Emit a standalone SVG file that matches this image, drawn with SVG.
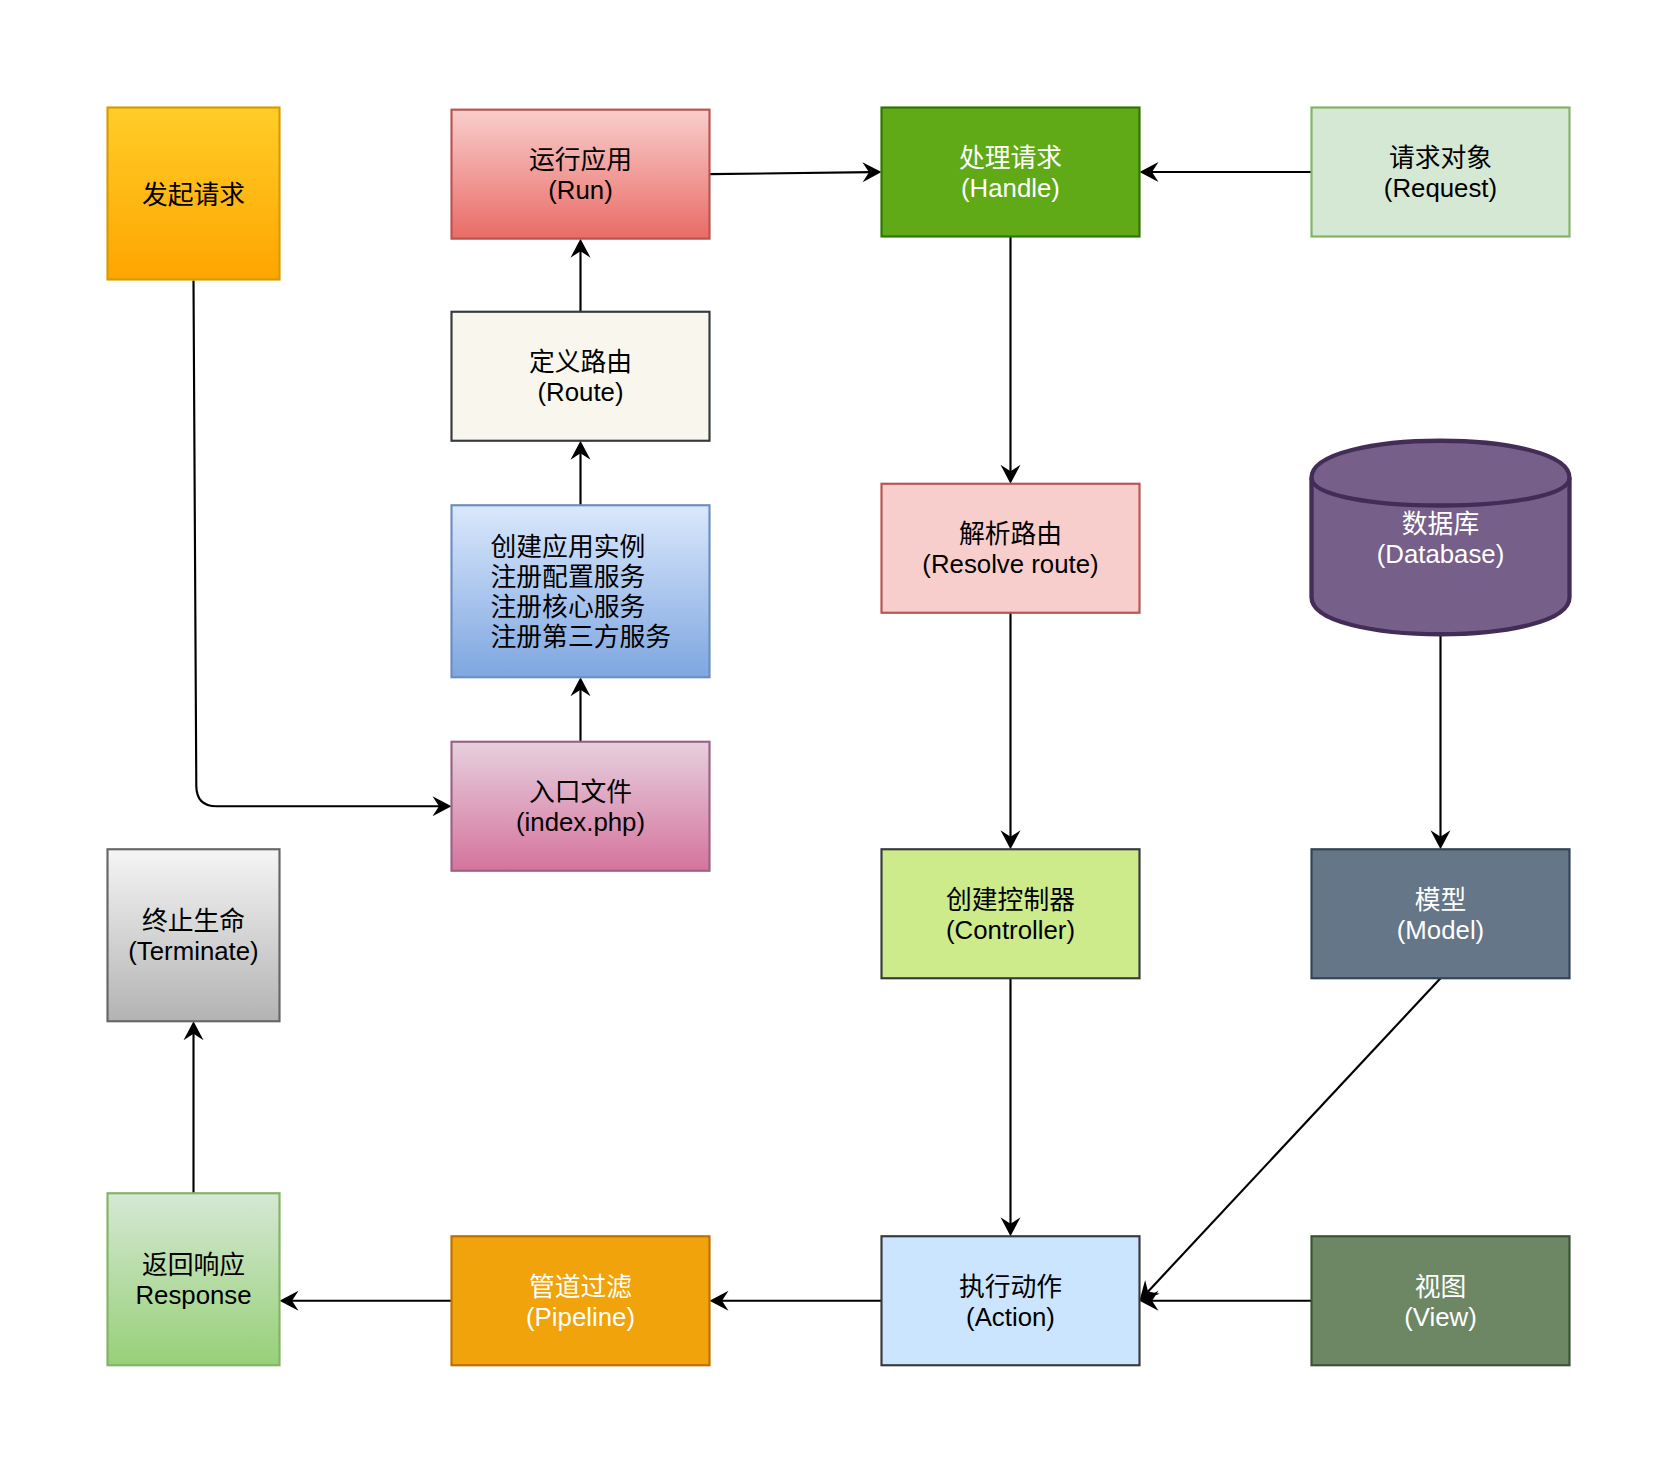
<svg xmlns="http://www.w3.org/2000/svg" width="1680" height="1474" viewBox="0 0 1680 1474">
<style>
text{font-family:"Liberation Sans","Noto Sans CJK SC",sans-serif;font-size:25.8px;dominant-baseline:central}
.c{text-anchor:middle}
.w{fill:#ffffff}
.k{fill:#000000}
.n{stroke-width:2.15}
.e{fill:none;stroke:#000000;stroke-width:2.15}
</style>
<defs>
<linearGradient id="gOrange" x1="0" y1="0" x2="0" y2="1"><stop offset="0" stop-color="#ffcd28"/><stop offset="1" stop-color="#ffa500"/></linearGradient>
<linearGradient id="gRed" x1="0" y1="0" x2="0" y2="1"><stop offset="0" stop-color="#f8cecc"/><stop offset="1" stop-color="#ea6b66"/></linearGradient>
<linearGradient id="gBlue" x1="0" y1="0" x2="0" y2="1"><stop offset="0" stop-color="#dae8fc"/><stop offset="1" stop-color="#7ea6e0"/></linearGradient>
<linearGradient id="gPink" x1="0" y1="0" x2="0" y2="1"><stop offset="0" stop-color="#e6d0de"/><stop offset="1" stop-color="#d5739d"/></linearGradient>
<linearGradient id="gGray" x1="0" y1="0" x2="0" y2="1"><stop offset="0" stop-color="#f5f5f5"/><stop offset="1" stop-color="#b3b3b3"/></linearGradient>
<linearGradient id="gGreen" x1="0" y1="0" x2="0" y2="1"><stop offset="0" stop-color="#d5e8d4"/><stop offset="1" stop-color="#97d077"/></linearGradient>
<marker id="arr" viewBox="-10 -11 21 22" refX="0" refY="0" markerWidth="21" markerHeight="22" markerUnits="userSpaceOnUse" orient="auto">
<path d="M10,0 L-9,-10 L-2.5,0 L-9,10 Z" fill="#000000"/>
</marker>
</defs>

<g id="edges">
<path class="e" marker-end="url(#arr)" d="M193.5,280.5 L196.3,786 Q196.5,806.25 216.5,806.25 L441.5,806.25"/>
<path class="e" marker-end="url(#arr)" d="M580.5,741.75 L580.5,687.25"/>
<path class="e" marker-end="url(#arr)" d="M580.5,505.25 L580.5,450.75"/>
<path class="e" marker-end="url(#arr)" d="M580.5,311.75 L580.5,248.65"/>
<path class="e" marker-end="url(#arr)" d="M709.5,174.15 L871.5,172.1"/>
<path class="e" marker-end="url(#arr)" d="M1311.5,172 L1149.5,172"/>
<path class="e" marker-end="url(#arr)" d="M1010.5,236.5 L1010.5,473.75"/>
<path class="e" marker-end="url(#arr)" d="M1010.5,612.75 L1010.5,839.25"/>
<path class="e" marker-end="url(#arr)" d="M1010.5,978.25 L1010.5,1226.25"/>
<path class="e" marker-end="url(#arr)" d="M1440.5,634.25 L1440.5,839.25"/>
<path class="e" marker-end="url(#arr)" d="M1440.5,978.25 L1146.3,1293.4"/>
<path class="e" marker-end="url(#arr)" d="M1311.5,1300.75 L1149.5,1300.75"/>
<path class="e" marker-end="url(#arr)" d="M881.5,1300.75 L719.5,1300.75"/>
<path class="e" marker-end="url(#arr)" d="M451.5,1300.75 L289.5,1300.75"/>
<path class="e" marker-end="url(#arr)" d="M193.5,1193.25 L193.5,1031.25"/>
</g>

<g id="n-start">
<rect class="n" x="107.5" y="107.5" width="172" height="172" fill="url(#gOrange)" stroke="#d79b00"/>
<text class="c k" x="193.5" y="194.5">发起请求</text>
</g>

<g id="n-run">
<rect class="n" x="451.5" y="109.65" width="258" height="129" fill="url(#gRed)" stroke="#b85450"/>
<text class="c k" x="580.5" y="160">运行应用</text>
<text class="c k" x="580.5" y="190">(Run)</text>
</g>

<g id="n-handle">
<rect class="n" x="881.5" y="107.5" width="258" height="129" fill="#60a917" stroke="#2d7600"/>
<text class="c w" x="1010.5" y="158">处理请求</text>
<text class="c w" x="1010.5" y="188">(Handle)</text>
</g>

<g id="n-request">
<rect class="n" x="1311.5" y="107.5" width="258" height="129" fill="#d5e8d4" stroke="#82b366"/>
<text class="c k" x="1440.5" y="158">请求对象</text>
<text class="c k" x="1440.5" y="188">(Request)</text>
</g>

<g id="n-route">
<rect class="n" x="451.5" y="311.75" width="258" height="129" fill="#f9f7ed" stroke="#36393d"/>
<text class="c k" x="580.5" y="362">定义路由</text>
<text class="c k" x="580.5" y="392">(Route)</text>
</g>

<g id="n-app">
<rect class="n" x="451.5" y="505.25" width="258" height="172" fill="url(#gBlue)" stroke="#6c8ebf"/>
<text class="k" x="490.5" y="547">创建应用实例</text>
<text class="k" x="490.5" y="577">注册配置服务</text>
<text class="k" x="490.5" y="607">注册核心服务</text>
<text class="k" x="490.5" y="637">注册第三方服务</text>
</g>

<g id="n-index">
<rect class="n" x="451.5" y="741.75" width="258" height="129" fill="url(#gPink)" stroke="#996185"/>
<text class="c k" x="580.5" y="792">入口文件</text>
<text class="c k" x="580.5" y="822">(index.php)</text>
</g>

<g id="n-resolve">
<rect class="n" x="881.5" y="483.75" width="258" height="129" fill="#f8cecc" stroke="#b85450"/>
<text class="c k" x="1010.5" y="534">解析路由</text>
<text class="c k" x="1010.5" y="564">(Resolve route)</text>
</g>

<g id="n-database">
<path d="M1311.5,477.75 C1311.5,428.4 1569.5,428.4 1569.5,477.75 L1569.5,597.25 C1569.5,646.6 1311.5,646.6 1311.5,597.25 Z" fill="#76608a" stroke="#432d57" stroke-width="4.3"/>
<path d="M1311.5,477.75 C1311.5,514.75 1569.5,514.75 1569.5,477.75" fill="none" stroke="#432d57" stroke-width="4.3"/>
<text class="c w" x="1440.5" y="524">数据库</text>
<text class="c w" x="1440.5" y="554">(Database)</text>
</g>

<g id="n-controller">
<rect class="n" x="881.5" y="849.25" width="258" height="129" fill="#cdeb8b" stroke="#36393d"/>
<text class="c k" x="1010.5" y="899.5">创建控制器</text>
<text class="c k" x="1010.5" y="929.5">(Controller)</text>
</g>

<g id="n-model">
<rect class="n" x="1311.5" y="849.25" width="258" height="129" fill="#647687" stroke="#314354"/>
<text class="c w" x="1440.5" y="899.5">模型</text>
<text class="c w" x="1440.5" y="929.5">(Model)</text>
</g>

<g id="n-terminate">
<rect class="n" x="107.5" y="849.25" width="172" height="172" fill="url(#gGray)" stroke="#666666"/>
<text class="c k" x="193.5" y="921">终止生命</text>
<text class="c k" x="193.5" y="951">(Terminate)</text>
</g>

<g id="n-response">
<rect class="n" x="107.5" y="1193.25" width="172" height="172" fill="url(#gGreen)" stroke="#82b366"/>
<text class="c k" x="193.5" y="1265">返回响应</text>
<text class="c k" x="193.5" y="1295">Response</text>
</g>

<g id="n-pipeline">
<rect class="n" x="451.5" y="1236.25" width="258" height="129" fill="#f0a30a" stroke="#bd7000"/>
<text class="c w" x="580.5" y="1286.5">管道过滤</text>
<text class="c w" x="580.5" y="1316.5">(Pipeline)</text>
</g>

<g id="n-action">
<rect class="n" x="881.5" y="1236.25" width="258" height="129" fill="#cce5ff" stroke="#36393d"/>
<text class="c k" x="1010.5" y="1286.5">执行动作</text>
<text class="c k" x="1010.5" y="1316.5">(Action)</text>
</g>

<g id="n-view">
<rect class="n" x="1311.5" y="1236.25" width="258" height="129" fill="#6d8764" stroke="#3a5431"/>
<text class="c w" x="1440.5" y="1286.5">视图</text>
<text class="c w" x="1440.5" y="1316.5">(View)</text>
</g>
</svg>
